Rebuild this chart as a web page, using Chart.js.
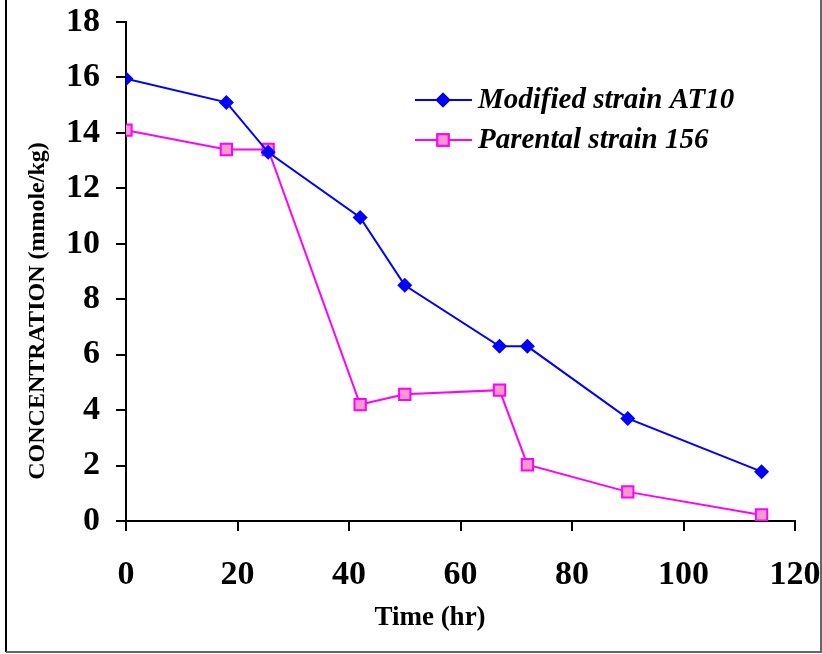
<!DOCTYPE html>
<html>
<head>
<meta charset="utf-8">
<title>Concentration vs time</title>
<script src="https://cdn.jsdelivr.net/npm/chart.js@4"></script>
<style>
  html, body { margin: 0; padding: 0; background: #fff; }
  #wrap { position: relative; width: 822px; height: 654px; }
</style>
</head>
<body>
<div id="wrap"><canvas id="myChart"></canvas></div>
<script>
// sampling times (hr) and concentrations (mmole/kg)
const tempos = [0, 18, 25.5, 42, 50, 67, 72, 90, 114];
const modificada = [15.95, 15.1, 13.3, 10.95, 8.5, 6.3, 6.3, 3.7, 1.78];
const parental = [14.1, 13.4, 13.4, 4.2, 4.57, 4.72, 2.03, 1.05, 0.22];
const nomesSeries = ['Modified strain AT10', 'Parental strain 156'];
const ticksX = [0, 20, 40, 60, 80, 100, 120];
const ticksY = [0, 2, 4, 6, 8, 10, 12, 14, 16, 18];
const tituloX = 'Time (hr)';
const tituloY = 'CONCENTRATION (mmole/kg)';

const serif = "'Liberation Serif', 'Times New Roman', serif";

function pontos(ys) {
    return tempos.map((t, i) => ({ x: t, y: ys[i] }));
}

// axis titles, legend (line + marker + italic label) and outer frame
const legendaInterna = {
    id: 'legendaInterna',
    afterDraw(chart) {
        const ctx = chart.ctx;
        const x0 = 415, x1 = 472, xm = 443;
        const linhas = [100, 140];
        ctx.save();

        ctx.fillStyle = '#000';
        ctx.textAlign = 'center';
        ctx.textBaseline = 'middle';
        ctx.font = "bold 27px " + serif;
        ctx.fillText(tituloX, 430, 618);
        ctx.save();
        ctx.translate(38, 311);
        ctx.rotate(-Math.PI / 2);
        ctx.font = "bold 24px " + serif;
        ctx.fillText(tituloY, 0, 0);
        ctx.restore();

        chart.data.datasets.forEach((ds, i) => {
            const y = linhas[i];
            ctx.strokeStyle = ds.borderColor;
            ctx.lineWidth = 2;
            ctx.beginPath();
            ctx.moveTo(x0, y);
            ctx.lineTo(x1, y);
            ctx.stroke();
            Chart.helpers.drawPoint(ctx, {
                pointStyle: ds.pointStyle,
                radius: ds.pointRadius,
                borderWidth: ds.pointBorderWidth
            }, xm, y);
            ctx.fillStyle = ds.pointBackgroundColor;
            ctx.strokeStyle = ds.pointBorderColor;
            ctx.lineWidth = ds.pointBorderWidth;
            ctx.fill();
            if (ds.pointBorderWidth > 0) ctx.stroke();
            ctx.fillStyle = '#000';
            ctx.font = "italic bold 29px " + serif;
            ctx.textAlign = 'left';
            ctx.textBaseline = 'middle';
            ctx.fillText(ds.label, 478, y + 1);
        });

        ctx.strokeStyle = '#000';
        ctx.lineWidth = 2;
        ctx.beginPath();
        ctx.moveTo(6, 0);
        ctx.lineTo(6, 652);
        ctx.stroke();
        ctx.strokeStyle = '#666';
        ctx.beginPath();
        ctx.moveTo(6, 652);
        ctx.lineTo(821, 652);
        ctx.lineTo(821, 0);
        ctx.stroke();
        ctx.restore();
    }
};

const ctx = document.getElementById('myChart');

myChart = new Chart(ctx, {
    type: 'line',
    data: {
        datasets: [{
            label: nomesSeries[0],
            data: pontos(modificada),
            borderColor: '#0000ff',
            backgroundColor: '#0000ff',
            borderWidth: 2,
            pointStyle: 'rectRot',
            pointRadius: 7.5,
            pointBorderWidth: 0,
            pointBackgroundColor: '#0000ff',
            pointBorderColor: '#0000ff',
            tension: 0
        }, {
            label: nomesSeries[1],
            data: pontos(parental),
            borderColor: '#ff00ff',
            backgroundColor: '#ff99cc',
            borderWidth: 2,
            pointStyle: 'rect',
            pointRadius: 8,
            pointBorderWidth: 2,
            pointBackgroundColor: '#ff99cc',
            pointBorderColor: '#ff00ff',
            tension: 0
        }]
    },
    options: {
        responsive: true,
        maintainAspectRatio: false,
        animation: false,
        layout: { padding: { top: 22, right: 27, bottom: 0, left: 0 } },
        plugins: {
            legend: { display: false },
            tooltip: { enabled: false }
        },
        scales: {
            x: {
                type: 'linear',
                min: 0,
                max: 120,
                afterBuildTicks: (scale) => { scale.ticks = ticksX.map(v => ({ value: v })); },
                afterFit: (scale) => {
                    scale.height = 133;
                    scale.paddingLeft = 0;
                    scale.paddingRight = 0;
                },
                border: { color: '#000', width: 2 },
                grid: { drawOnChartArea: false, drawTicks: true, tickLength: 10, color: '#000', lineWidth: 2 },
                ticks: {
                    color: '#000',
                    padding: 24,
                    maxRotation: 0,
                    font: { family: serif, size: 34, weight: 'bold' }
                },
                title: { display: false }
            },
            y: {
                min: 0,
                max: 18,
                afterBuildTicks: (scale) => { scale.ticks = ticksY.map(v => ({ value: v })); },
                afterFit: (scale) => {
                    scale.width = 126;
                    scale.paddingTop = 0;
                    scale.paddingBottom = 0;
                },
                border: { color: '#000', width: 2 },
                grid: { drawOnChartArea: false, drawTicks: true, tickLength: 10, color: '#000', lineWidth: 2 },
                ticks: {
                    color: '#000',
                    padding: 16,
                    font: { family: serif, size: 34, weight: 'bold' }
                },
                title: { display: false }
            }
        }
    },
    plugins: [legendaInterna]
});
</script>
</body>
</html>
